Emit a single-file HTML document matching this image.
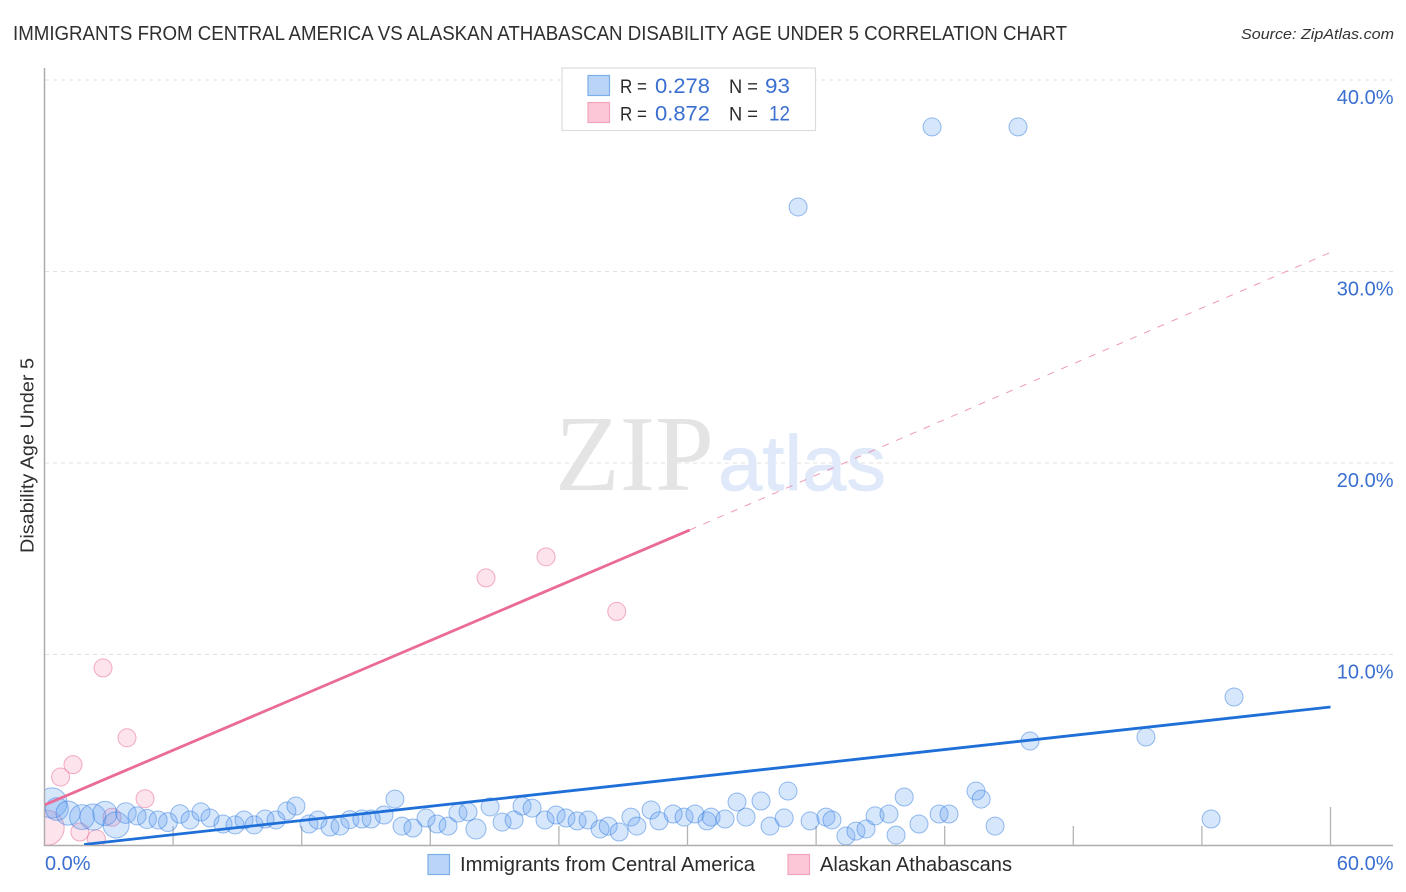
<!DOCTYPE html>
<html lang="en">
<head>
<meta charset="utf-8">
<title>Immigrants from Central America vs Alaskan Athabascan Disability Age Under 5 Correlation Chart</title>
<style>
html,body{margin:0;padding:0;background:#fff;width:1406px;height:892px;overflow:hidden}
svg{display:block;font-family:"Liberation Sans",sans-serif}
</style>
</head>
<body>
<svg id="chart" width="1406" height="892" viewBox="0 0 1406 892" xmlns="http://www.w3.org/2000/svg">
  <defs>
    <clipPath id="plot-clip"><rect x="45" y="60" width="1350" height="785"></rect></clipPath>
  </defs>
  <text x="13" y="40" font-size="20" fill="#2f2f2f" textLength="1054" lengthAdjust="spacingAndGlyphs">IMMIGRANTS FROM CENTRAL AMERICA VS ALASKAN ATHABASCAN DISABILITY AGE UNDER 5 CORRELATION CHART</text>
  <text x="1241" y="39" font-size="15" font-style="italic" fill="#333" textLength="153" lengthAdjust="spacingAndGlyphs">Source: ZipAtlas.com</text>
  <text transform="translate(33.5,553) rotate(-90)" font-size="18" fill="#2f2f2f" textLength="195" lengthAdjust="spacingAndGlyphs">Disability Age Under 5</text>

  <g id="grid"></g>
  <g>
    <text x="555" y="490" font-family="'Liberation Serif',serif" font-size="108" fill="#e4e4e4" textLength="159" lengthAdjust="spacingAndGlyphs">ZIP</text>
    <text x="718" y="490" font-family="'Liberation Sans',sans-serif" font-size="78" fill="#dfe9f9" stroke="#dfe9f9" stroke-width="0.8" textLength="168" lengthAdjust="spacingAndGlyphs">atlas</text>
  </g>
  <g id="axes"></g>
  <g id="points" clip-path="url(#plot-clip)"></g>
  <g id="trends" clip-path="url(#plot-clip)"></g>
  <g id="tick-labels"></g>

  <g>
    <rect x="562" y="68" width="253.5" height="62.5" fill="#fff" stroke="#dcdcdc" stroke-width="1.2"></rect>
    <rect x="588" y="75.5" width="21.5" height="20" fill="#b9d4f7" stroke="#7eaee8" stroke-width="1.2"></rect>
    <rect x="588" y="102.5" width="21.5" height="20" fill="#fcc8d8" stroke="#f3a3bc" stroke-width="1.2"></rect>
    <text x="620" y="93" font-size="19" fill="#2b2b2b" textLength="27" lengthAdjust="spacingAndGlyphs">R =</text>
    <text x="655" y="93" font-size="21" fill="#3a6fd0" textLength="55" lengthAdjust="spacingAndGlyphs">0.278</text>
    <text x="729" y="93" font-size="19" fill="#2b2b2b" textLength="29" lengthAdjust="spacingAndGlyphs">N =</text>
    <text x="765" y="93" font-size="21" fill="#3a6fd0" textLength="25" lengthAdjust="spacingAndGlyphs">93</text>
    <text x="620" y="120.5" font-size="19" fill="#2b2b2b" textLength="27" lengthAdjust="spacingAndGlyphs">R =</text>
    <text x="655" y="120.5" font-size="21" fill="#3a6fd0" textLength="55" lengthAdjust="spacingAndGlyphs">0.872</text>
    <text x="729" y="120.5" font-size="19" fill="#2b2b2b" textLength="29" lengthAdjust="spacingAndGlyphs">N =</text>
    <text x="769" y="120.5" font-size="21" fill="#3a6fd0" textLength="21" lengthAdjust="spacingAndGlyphs">12</text>
  </g>

  <g>
    <rect x="428" y="854.5" width="21.5" height="20" fill="#b9d4f7" stroke="#7eaee8" stroke-width="1.2"></rect>
    <text x="460" y="871" font-size="20" fill="#2b2b2b" textLength="295" lengthAdjust="spacingAndGlyphs">Immigrants from Central America</text>
    <rect x="788" y="854.5" width="21.5" height="20" fill="#fcc8d8" stroke="#f3a3bc" stroke-width="1.2"></rect>
    <text x="820" y="871" font-size="20" fill="#2b2b2b" textLength="192" lengthAdjust="spacingAndGlyphs">Alaskan Athabascans</text>
  </g>
</svg>
<script>
// ---- chart data (percent units) ----
const xTickValues = [0, 6, 12, 18, 24, 30, 36, 42, 48, 54, 60];
const xTickLabels = ['0.0%', '60.0%'];
const xLabelValues = [0, 60];
const yTickValues = [10, 20, 30, 40];
const yTickLabels = ['10.0%', '20.0%', '30.0%', '40.0%'];

const immigrantX = [0.35,0.58,1.10,1.75,2.26,2.82,3.34,3.80,4.78,5.76,6.32,20.13,4.32,5.30,6.79,7.30,7.72,8.33,8.89,9.31,9.78,10.29,10.80,11.31,11.73,12.34,12.76,13.32,13.79,14.25,14.81,15.24,15.84,16.35,16.68,17.19,17.80,18.31,18.83,19.29,19.76,20.79,21.35,21.91,22.28,22.75,23.35,23.87,24.33,24.85,25.36,25.92,26.30,26.81,27.36,27.64,28.30,28.67,29.33,29.84,30.35,30.91,31.10,31.75,32.31,32.73,33.43,33.85,34.51,34.69,35.72,36.46,36.74,37.39,37.86,38.33,38.75,39.40,39.73,40.11,40.80,41.74,42.20,43.46,43.70,44.35,45.98,51.39,55.50,54.43,35.16,41.41,45.42];
const immigrantY = [2.25,1.93,1.72,1.51,1.51,1.70,1.10,1.72,1.41,1.25,1.67,0.89,1.57,1.36,1.36,1.78,1.46,1.15,1.10,1.36,1.10,1.41,1.36,1.83,2.09,1.15,1.36,0.99,1.04,1.38,1.41,1.41,1.62,2.45,1.04,0.94,1.46,1.15,1.04,1.72,1.78,2.04,1.25,1.36,2.09,1.98,1.36,1.62,1.46,1.31,1.36,0.89,1.04,0.73,1.51,1.04,1.88,1.31,1.67,1.51,1.67,1.31,1.51,1.41,2.30,1.51,2.35,1.04,1.46,2.87,1.31,1.51,1.36,0.52,0.78,0.89,1.57,1.67,0.57,2.56,1.15,1.67,1.67,2.87,2.45,1.04,5.48,5.69,7.78,1.41,33.37,37.55,37.55];
const immigrantWeight = [2.8,1.6,1.8,1.9,2.1,1.8,2.1,1.3,1.1,1.1,1.05,1.25];

const athabascanX = [0.1,0.75,1.33,1.65,2.42,3.15,2.73,3.85,4.69,20.6,23.4,26.7];
const athabascanY = [0.95,3.6,4.25,0.73,0.37,1.5,9.3,5.65,2.47,14,15.1,12.25];
const athabascanWeight = [3.8,1,1,1,1,1,1,1,1,1,1,1];

const immigrantTrendX = [1.85, 60];
const immigrantTrendY = [0.08, 7.26];
const athabascanTrendX = [0, 30.1];
const athabascanTrendY = [2.14, 16.5];
const athabascanExtendX = [30.1, 60];
const athabascanExtendY = [16.5, 31.0];

// ---- axis functions ----
const sx = v => 44.5 + v * (1330.5 - 44.5) / 60;
const sy = v => 846 - v * (846 - 80) / 40;
const rad = w => 9 * Math.sqrt(w || 1);
const NS = 'http://www.w3.org/2000/svg';
function mk(tag, parent, attrs) {
  const el = document.createElementNS(NS, tag);
  for (const k in attrs) el.setAttribute(k, attrs[k]);
  parent.appendChild(el);
  return el;
}

// ---- grid ----
const grid = document.getElementById('grid');
yTickValues.forEach(v => {
  const el = mk('line', grid, {x1: 45, x2: 1393, y1: sy(v), y2: sy(v), stroke: '#e2e2e2', 'stroke-width': 1, 'stroke-dasharray': '4 4'});
  
  
});

// ---- axes ----
const axes = document.getElementById('axes');
const yAxisLine = mk('line', axes, {x1: 44.5, x2: 44.5, y1: 68, y2: 846, stroke: '#adadad', 'stroke-width': 1.5});


const xAxisLine = mk('line', axes, {x1: 44, x2: 1393, y1: 845.5, y2: 845.5, stroke: '#adadad', 'stroke-width': 1.5});


xTickValues.forEach(v => {
  if (v === 0) return;
  const top = v === 60 ? 807 : 826;
  const el = mk('line', axes, {x1: sx(v), x2: sx(v), y1: top, y2: 846, stroke: '#b4b4b4', 'stroke-width': 1.3});
  
  
});

// ---- points ----
const points = document.getElementById('points');
athabascanX.forEach((x, i) => {
  const el = mk('circle', points, {cx: sx(x), cy: sy(athabascanY[i]), r: rad(athabascanWeight[i]), fill: '#f8a9c2', 'fill-opacity': 0.33, stroke: '#e9799d', 'stroke-opacity': 0.6, 'stroke-width': 1});
  
  
});
immigrantX.forEach((x, i) => {
  const el = mk('circle', points, {cx: sx(x), cy: sy(immigrantY[i]), r: rad(immigrantWeight[i]), fill: '#5f9eee', 'fill-opacity': 0.26, stroke: '#2b78dd', 'stroke-opacity': 0.48, 'stroke-width': 1});
  
  
});

// ---- trend lines ----
const trends = document.getElementById('trends');
const athaDash = mk('line', trends, {x1: sx(athabascanExtendX[0]), y1: sy(athabascanExtendY[0]), x2: sx(athabascanExtendX[1]), y2: sy(athabascanExtendY[1]), stroke: '#e8789f', 'stroke-width': 1, 'stroke-dasharray': '7 8', 'stroke-opacity': 0.75});


const athaLine = mk('line', trends, {x1: sx(athabascanTrendX[0]), y1: sy(athabascanTrendY[0]), x2: sx(athabascanTrendX[1]), y2: sy(athabascanTrendY[1]), stroke: '#ea6b98', 'stroke-width': 2.8});


const immLine = mk('line', trends, {x1: sx(immigrantTrendX[0]), y1: sy(immigrantTrendY[0]), x2: sx(immigrantTrendX[1]), y2: sy(immigrantTrendY[1]), stroke: '#1f6fd8', 'stroke-width': 2.8});



// ---- tick labels ----
const tickLabels = document.getElementById('tick-labels');
yTickValues.forEach((v, i) => {
  const el = mk('text', tickLabels, {x: 1393.5, y: sy(v) + 24, 'font-size': 20, fill: '#3a6fd0', 'text-anchor': 'end'});
  el.textContent = yTickLabels[i];
  
  
});
xLabelValues.forEach((v, i) => {
  const el = mk('text', tickLabels, {x: v === 0 ? 45 : 1393.5, y: 870, 'font-size': 20, fill: '#3a6fd0', 'text-anchor': v === 0 ? 'start' : 'end'});
  el.textContent = xTickLabels[i];
  
  
});
</script>
</body>
</html>
